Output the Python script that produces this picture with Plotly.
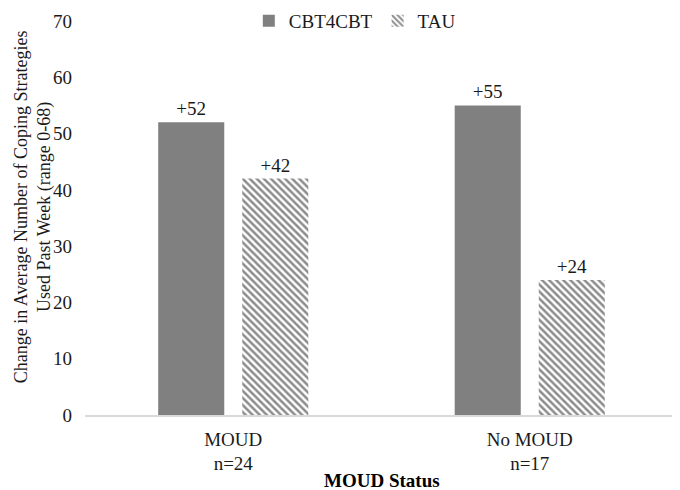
import plotly.graph_objects as go

# data
groups = ["MOUD<br>n=24", "No MOUD<br>n=17"]
cbt4cbt = [52, 55]
tau = [42, 24]
cbt_labels = ["+52", "+55"]
tau_labels = ["+42", "+24"]

serif = "Liberation Serif"
my_font = dict(family=serif, size=19, color="#1a1a1a")

fig = go.Figure()
fig.add_trace(go.Bar(
    x=groups, y=cbt4cbt, name="CBT4CBT",
    marker=dict(color="#808080", line=dict(width=0)),
    text=cbt_labels, textposition="outside", cliponaxis=False,
))
fig.add_trace(go.Bar(
    x=groups, y=tau, name="TAU",
    marker=dict(color="white", line=dict(width=0),
                pattern=dict(shape="\\", fgcolor="#1a1a1a", bgcolor="white", size=5, solidity=0.5)),
    text=tau_labels, textposition="outside", cliponaxis=False,
))

# page body has an 8px margin, so the figure is 8px smaller than the window
fig.update_layout(
    width=672, height=482,
    font=my_font,
    plot_bgcolor="white", paper_bgcolor="white",
    barmode="group", bargap=0.433, bargroupgap=0.214,
    margin=dict(l=77, r=2, t=13, b=75, autoexpand=False),
    showlegend=True,
    legend=dict(orientation="h", x=0.455, xanchor="center", y=1.0, yanchor="middle",
                font=dict(size=19), bgcolor="rgba(0,0,0,0)"),
    annotations=[
        dict(text="<b>MOUD Status</b>", xref="paper", yref="paper",
             x=0.5, y=-0.165, xanchor="center", yanchor="middle",
             showarrow=False, font=dict(size=19, color="black")),
        # y axis title as annotation so it can sit close to the edge
        dict(text="Change in Average Number of Coping Strategies<br>Used Past Week (range 0-68)",
             xref="paper", yref="paper", x=-0.0877, y=0.53, xanchor="center", yanchor="middle",
             textangle=-90, showarrow=False, font=dict(size=18, color="#1a1a1a")),
    ],
)
fig.update_traces(textfont=dict(size=19, color="#1a1a1a"))
fig.update_xaxes(
    showline=True, linecolor="#d9d9d9", linewidth=1.5, ticks="", tickfont=dict(size=19),
    ticklabelstandoff=6, automargin=False,
)
fig.update_yaxes(
    range=[0, 70], dtick=10, showgrid=False, zeroline=False, showline=False,
    ticks="", tickfont=dict(size=19), ticklabelstandoff=12, automargin=False,
    ticklabeloverflow="allow",
)

fig.write_html("out.html")
